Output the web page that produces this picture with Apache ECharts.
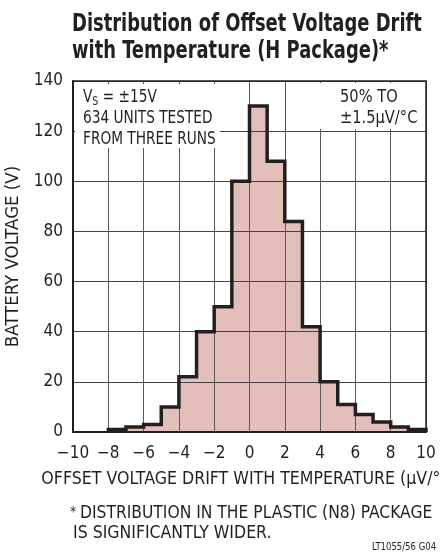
<!DOCTYPE html>
<html>
<head>
<meta charset="utf-8">
<script src="https://cdn.jsdelivr.net/npm/echarts@6/dist/echarts.min.js"></script>
<style>
html,body{margin:0;padding:0;background:#fff;}
#c{width:440px;height:555px;}
</style>
</head>
<body>
<div id="c"></div>
<script>
// ---- data ----
const binStarts = [-8,-7,-6,-5,-4,-3,-2,-1,0,1,2,3,4,5,6,7,8,9];
const counts    = [1, 2, 3, 10, 22, 40, 50, 100, 130, 108, 84, 42, 20, 11, 7, 4, 2, 1];
const binWidth = 1;
const xTicks = [-10,-8,-6,-4,-2,0,2,4,6,8,10];
const yTicks = [0,20,40,60,80,100,120,140];
const titleLines = ['Distribution of Offset Voltage Drift', 'with Temperature (H Package)*'];
const xName = 'OFFSET VOLTAGE DRIFT WITH TEMPERATURE (\u03bcV/\u00b0C)';
const yName = 'BATTERY VOLTAGE (V)';
const footLines = ['DISTRIBUTION IN THE PLASTIC (N8) PACKAGE', 'IS SIGNIFICANTLY WIDER.'];
const partLabel = 'LT1055/56 G04';

const FONT = '"Liberation Sans Narrow","Arial Narrow","DejaVu Sans Condensed",sans-serif';
const INK = '#231f20';
const FILL = '#e2bfba';

// step outline points built from the bins
const pts = [[binStarts[0], 0]];
binStarts.forEach((x, i) => pts.push([x, counts[i]]));
const lastX = binStarts[binStarts.length - 1] + binWidth;
pts.push([lastX, counts[counts.length - 1]]);
pts.push([lastX, 0]);

const fmtX = v => v < 0 ? '\u2212' + Math.abs(v) : String(v);

const chart = echarts.init(document.getElementById('c'), null, {renderer: 'canvas'});
const option = {
  animation: false,
  backgroundColor: '#fff',
  grid: {left: 73, right: 14, top: 81, bottom: 123, show: true, borderColor: INK, borderWidth: 1.5, z: 4,
         containLabel: false, outerBoundsMode: 'none'},
  xAxis: {
    type: 'value', min: xTicks[0], max: xTicks[xTicks.length - 1], interval: 2, z: 3,
    axisLine: {show: true, onZero: false, lineStyle: {color: INK, width: 2}},
    axisTick: {show: false},
    splitLine: {show: true, lineStyle: {color: '#5a5a5a', width: 1}},
    axisLabel: {formatter: fmtX, color: INK, fontFamily: FONT, fontSize: 17, margin: 13},
    name: xName, nameLocation: 'middle', nameGap: 38,
    nameTextStyle: {color: INK, fontFamily: FONT, fontSize: 17.6}
  },
  yAxis: {
    type: 'value', min: yTicks[0], max: yTicks[yTicks.length - 1], interval: 20, z: 3,
    axisLine: {show: true, onZero: false, lineStyle: {color: INK, width: 2}},
    axisTick: {show: false},
    splitLine: {show: true, lineStyle: {color: '#444', width: 1}},
    axisLabel: {color: INK, fontFamily: FONT, fontSize: 17, margin: 10},
    name: yName, nameLocation: 'middle', nameGap: 43,
    nameTextStyle: {color: INK, fontFamily: FONT, fontSize: 18.5}
  },
  series: [
    {
      type: 'line', step: 'end', data: pts, showSymbol: false, z: 1,
      lineStyle: {width: 0, opacity: 0},
      areaStyle: {color: FILL, opacity: 1}
    },
    {
      type: 'line', step: 'end', data: pts, showSymbol: false, z: 5,
      lineStyle: {width: 3.5, color: INK, join: 'miter'}
    }
  ],
  graphic: [
    {type: 'text', x: 72, y: 11, scaleX: 0.83, z: 10,
     style: {text: titleLines.join('\n'), font: 'bold 24px ' + FONT, fill: INK, lineHeight: 27}},
    {type: 'rect', shape: {x: 75, y: 84, width: 145, height: 64}, style: {fill: '#fff'}, z: 4.5},
    {type: 'text', x: 83, y: 87, scaleX: 0.87, z: 10,
     style: {
       text: '{a|V}{s|S}{a| = \u00b115V}\n{a|634 UNITS TESTED}\n{a|FROM THREE RUNS}',
       rich: {
         a: {fontFamily: FONT, fontSize: 17.5, fill: INK, color: INK, lineHeight: 21},
         s: {fontFamily: FONT, fontSize: 12, fill: INK, color: INK, lineHeight: 21, verticalAlign: 'bottom', padding: [6,0,0,0]}
       }
     }},
    {type: 'rect', shape: {x: 320, y: 83, width: 104, height: 46}, style: {fill: '#fff'}, z: 4.5},
    {type: 'text', x: 340, y: 87, scaleX: 0.93, z: 10,
     style: {text: '50% TO\n\u00b11.5\u03bcV/\u00b0C', font: '17.5px ' + FONT, fill: INK, lineHeight: 21}},
    {type: 'text', x: 70, y: 505, z: 10,
     style: {text: '*', font: '14px ' + FONT, fill: INK}},
    {type: 'text', x: 80, y: 505, z: 10,
     style: {text: footLines[0], font: '17.3px ' + FONT, fill: INK}},
    {type: 'text', x: 73, y: 524, z: 10,
     style: {text: footLines[1], font: '17.5px ' + FONT, fill: INK}},
    {type: 'text', x: 372, y: 542, scaleX: 0.9, z: 10,
     style: {text: partLabel, font: '10.5px ' + FONT, fill: INK}}
  ]
};
chart.setOption(option);
</script>
</body>
</html>
